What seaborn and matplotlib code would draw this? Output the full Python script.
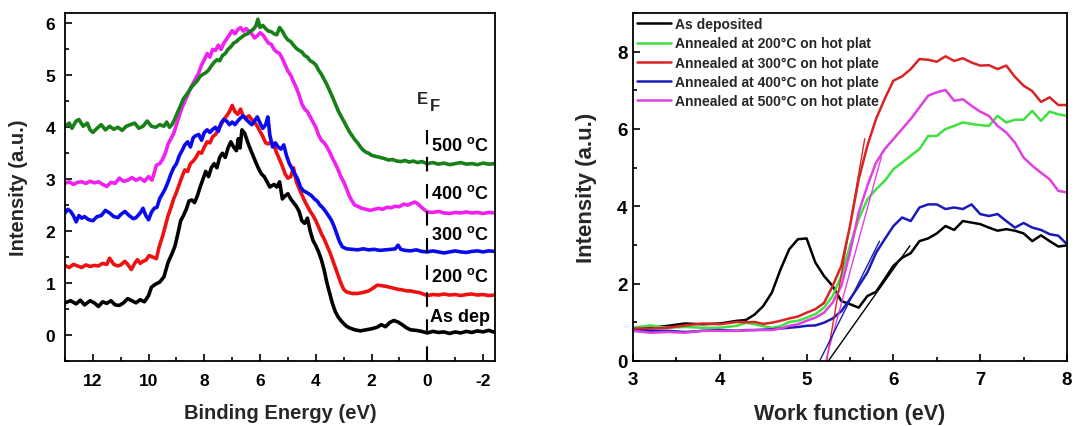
import matplotlib
matplotlib.use("Agg")
import matplotlib.pyplot as plt
import seaborn as sns
from matplotlib.ticker import MultipleLocator

sns.set_theme(style="ticks")
plt.rcParams["font.family"] = ["Liberation Sans", "DejaVu Sans"]
plt.rcParams["font.weight"] = "bold"
plt.rcParams["axes.labelweight"] = "bold"
plt.rcParams["axes.unicode_minus"] = False
plt.rcParams["mathtext.fontset"] = "custom"
plt.rcParams["mathtext.rm"] = "Liberation Sans:bold"
plt.rcParams["mathtext.bf"] = "Liberation Sans:bold"
plt.rcParams["mathtext.it"] = "Liberation Sans:bold"

# ---------------- Left panel data: valence band spectra ----------------
asdep_x = [13.0, 12.8, 12.6, 12.45, 12.3, 12.1, 11.95, 11.8, 11.65, 11.5, 11.35, 11.2, 11.05, 10.9, 10.75,
           10.6, 10.45, 10.3, 10.15, 10.0, 9.9, 9.75, 9.6, 9.45, 9.3, 9.15, 9.05, 8.95, 8.85, 8.75, 8.65,
           8.55, 8.45, 8.35, 8.25, 8.15, 8.05, 7.95, 7.85, 7.75, 7.65, 7.55, 7.45, 7.35, 7.25, 7.15, 7.05,
           6.95, 6.85, 6.78, 6.72, 6.65, 6.55, 6.45, 6.35, 6.25, 6.15, 6.05, 5.95, 5.85, 5.75, 5.65, 5.5,
           5.4, 5.3, 5.2, 5.1, 5.0, 4.9, 4.8, 4.7, 4.6, 4.5, 4.4, 4.3, 4.2, 4.1, 4.0, 3.9, 3.8, 3.7, 3.6,
           3.5, 3.4, 3.3, 3.2, 3.1, 3.0, 2.9, 2.8, 2.6, 2.4, 2.2, 2.0, 1.8, 1.65, 1.5, 1.35, 1.2, 1.05,
           0.9, 0.75, 0.6, 0.4, 0.2, 0.0, -0.2, -0.4, -0.6, -0.8, -1.0, -1.2, -1.4, -1.6, -1.8, -2.0,
           -2.2, -2.43]
asdep_y = [0.62, 0.66, 0.60, 0.67, 0.58, 0.66, 0.62, 0.55, 0.64, 0.61, 0.66, 0.58, 0.57, 0.62, 0.70,
           0.66, 0.62, 0.68, 0.64, 0.76, 0.92, 0.98, 1.02, 1.12, 1.40, 1.58, 1.72, 1.95, 2.20, 2.30, 2.42,
           2.58, 2.60, 2.55, 2.68, 2.85, 3.00, 3.15, 3.05, 3.22, 3.30, 3.22, 3.42, 3.50, 3.42, 3.60, 3.72,
           3.62, 3.55, 3.78, 3.60, 3.95, 3.88, 3.72, 3.58, 3.45, 3.32, 3.20, 3.10, 3.05, 2.95, 2.85, 2.90,
           2.85, 2.95, 2.62, 2.68, 2.72, 2.62, 2.55, 2.48, 2.38, 2.20, 2.15, 2.25, 2.00, 1.82, 1.72, 1.60,
           1.45, 1.25, 1.00, 0.80, 0.60, 0.45, 0.35, 0.28, 0.22, 0.17, 0.14, 0.10, 0.08, 0.10, 0.12, 0.15,
           0.20, 0.16, 0.24, 0.28, 0.25, 0.20, 0.14, 0.10, 0.09, 0.07, 0.04, 0.07, 0.05, 0.06, 0.03, 0.06,
           0.04, 0.07, 0.05, 0.08, 0.06, 0.09, 0.05]

c200_x = [13.0, 12.85, 12.7, 12.55, 12.4, 12.25, 12.1, 11.95, 11.8, 11.65, 11.5, 11.4, 11.25, 11.1, 11.0,
          10.85, 10.75, 10.62, 10.5, 10.4, 10.3, 10.2, 10.1, 9.98, 9.85, 9.72, 9.62, 9.5, 9.4, 9.3, 9.2,
          9.1, 9.0, 8.9, 8.8, 8.7, 8.6, 8.5, 8.4, 8.3, 8.2, 8.1, 8.0, 7.9, 7.8, 7.7, 7.6, 7.5, 7.4, 7.3,
          7.2, 7.1, 7.0, 6.9, 6.8, 6.7, 6.6, 6.5, 6.4, 6.3, 6.2, 6.1, 6.0, 5.9, 5.8, 5.7, 5.6, 5.5, 5.4,
          5.3, 5.2, 5.1, 5.0, 4.9, 4.8, 4.7, 4.6, 4.5, 4.4, 4.3, 4.2, 4.1, 4.0, 3.9, 3.8, 3.7, 3.6, 3.5,
          3.4, 3.3, 3.2, 3.1, 3.0, 2.9, 2.7, 2.5, 2.3, 2.1, 1.95, 1.8, 1.65, 1.5, 1.35, 1.2, 1.05, 0.9,
          0.75, 0.6, 0.45, 0.3, 0.15, 0.0, -0.2, -0.4, -0.6, -0.8, -1.0, -1.2, -1.4, -1.6, -1.8, -2.0,
          -2.2, -2.43]
c200_y = [1.34, 1.30, 1.36, 1.33, 1.30, 1.35, 1.32, 1.34, 1.33, 1.38, 1.36, 1.48, 1.36, 1.33, 1.35,
          1.42, 1.36, 1.26, 1.38, 1.45, 1.38, 1.42, 1.44, 1.53, 1.50, 1.47, 1.70, 1.90, 2.10, 2.30, 2.45,
          2.62, 2.75, 2.90, 3.05, 3.18, 3.15, 3.30, 3.35, 3.42, 3.52, 3.50, 3.62, 3.72, 3.70, 3.82, 3.86,
          3.95, 4.05, 4.15, 4.22, 4.30, 4.42, 4.30, 4.25, 4.35, 4.20, 4.18, 4.22, 4.15, 4.10, 4.02, 3.92,
          3.82, 3.70, 3.68, 3.72, 3.65, 3.50, 3.38, 3.25, 3.10, 3.02, 3.05, 3.22, 2.95, 2.82, 2.70, 2.58,
          2.48, 2.38, 2.30, 2.20, 2.08, 1.95, 1.85, 1.72, 1.60, 1.45, 1.30, 1.15, 1.00, 0.88, 0.83, 0.80,
          0.80, 0.82, 0.85, 0.90, 0.96, 0.95, 0.94, 0.92, 0.90, 0.88, 0.87, 0.85, 0.85, 0.83, 0.82, 0.79,
          0.76, 0.78, 0.77, 0.79, 0.77, 0.78, 0.76, 0.78, 0.79, 0.77, 0.78, 0.76, 0.77]

c300_x = [13.0, 12.9, 12.8, 12.7, 12.6, 12.5, 12.4, 12.3, 12.15, 12.0, 11.85, 11.7, 11.55, 11.4, 11.25,
          11.1, 11.0, 10.85, 10.7, 10.55, 10.45, 10.3, 10.2, 10.1, 10.0, 9.9, 9.8, 9.7, 9.6, 9.5, 9.4,
          9.3, 9.2, 9.1, 9.0, 8.9, 8.8, 8.7, 8.6, 8.5, 8.4, 8.3, 8.2, 8.1, 8.0, 7.9, 7.8, 7.7, 7.6, 7.5,
          7.4, 7.3, 7.2, 7.1, 7.0, 6.9, 6.8, 6.7, 6.6, 6.5, 6.4, 6.3, 6.2, 6.1, 6.0, 5.9, 5.8, 5.72, 5.65,
          5.55, 5.45, 5.35, 5.25, 5.15, 5.05, 4.95, 4.85, 4.75, 4.65, 4.55, 4.45, 4.35, 4.25, 4.15, 4.05,
          3.95, 3.85, 3.75, 3.65, 3.55, 3.45, 3.35, 3.25, 3.15, 3.05, 2.9, 2.7, 2.5, 2.3, 2.1, 1.9, 1.7,
          1.5, 1.3, 1.15, 1.05, 0.95, 0.8, 0.6, 0.4, 0.2, 0.0, -0.2, -0.4, -0.6, -0.8, -1.0, -1.2, -1.4,
          -1.6, -1.8, -2.0, -2.2, -2.43]
c300_y = [2.35, 2.42, 2.38, 2.30, 2.18, 2.30, 2.25, 2.28, 2.22, 2.20, 2.28, 2.30, 2.40, 2.35, 2.28,
          2.26, 2.32, 2.38, 2.30, 2.24, 2.26, 2.35, 2.44, 2.30, 2.22, 2.36, 2.44, 2.46, 2.63, 2.72, 2.82,
          2.95, 3.10, 3.22, 3.30, 3.45, 3.55, 3.66, 3.72, 3.62, 3.80, 3.84, 3.86, 3.75, 3.90, 3.95, 3.90,
          3.96, 4.00, 3.92, 4.08, 4.15, 4.12, 4.05, 4.10, 4.05, 4.12, 4.18, 4.22, 4.15, 4.10, 4.05, 4.12,
          4.20, 4.08, 3.98, 4.05, 4.20, 3.85, 3.62, 3.70, 3.62, 3.58, 3.66, 3.45, 3.30, 3.20, 3.10, 3.00,
          2.85, 2.78, 2.75, 2.72, 2.68, 2.62, 2.58, 2.50, 2.45, 2.38, 2.30, 2.22, 2.10, 1.95, 1.80, 1.70,
          1.66, 1.65, 1.64, 1.66, 1.64, 1.65, 1.63, 1.64, 1.65, 1.66, 1.73, 1.65, 1.63, 1.62, 1.64, 1.61,
          1.60, 1.62, 1.60, 1.58, 1.60, 1.62, 1.60, 1.59, 1.61, 1.62, 1.60, 1.62, 1.61]

c400_x = [13.0, 12.85, 12.7, 12.55, 12.4, 12.25, 12.1, 11.95, 11.8, 11.65, 11.5, 11.35, 11.2, 11.05, 10.9,
          10.75, 10.6, 10.45, 10.3, 10.15, 10.0, 9.88, 9.8, 9.72, 9.6, 9.5, 9.4, 9.3, 9.2, 9.1, 9.0, 8.9,
          8.8, 8.7, 8.6, 8.5, 8.4, 8.3, 8.2, 8.1, 8.0, 7.9, 7.8, 7.7, 7.6, 7.5, 7.4, 7.3, 7.2, 7.1, 7.0,
          6.9, 6.8, 6.7, 6.6, 6.5, 6.4, 6.3, 6.2, 6.1, 6.0, 5.9, 5.8, 5.7, 5.6, 5.5, 5.4, 5.3, 5.2, 5.1,
          5.0, 4.9, 4.8, 4.7, 4.6, 4.5, 4.4, 4.3, 4.2, 4.1, 4.0, 3.9, 3.8, 3.7, 3.6, 3.5, 3.4, 3.3, 3.2,
          3.1, 3.0, 2.9, 2.8, 2.7, 2.6, 2.5, 2.35, 2.2, 2.05, 1.9, 1.75, 1.6, 1.45, 1.3, 1.15, 1.0, 0.85,
          0.7, 0.55, 0.45, 0.35, 0.25, 0.12, 0.0, -0.2, -0.4, -0.6, -0.8, -1.0, -1.2, -1.4, -1.6, -1.8,
          -2.0, -2.2, -2.43]
c400_y = [2.92, 2.95, 2.90, 2.94, 2.95, 2.92, 2.96, 2.93, 2.95, 2.90, 2.86, 2.94, 2.92, 3.02, 2.96,
          2.98, 3.03, 2.98, 3.02, 2.96, 3.05, 2.98, 3.12, 3.27, 3.30, 3.38, 3.50, 3.68, 3.78, 3.88, 4.05,
          4.22, 4.38, 4.50, 4.62, 4.75, 4.85, 4.95, 5.05, 5.20, 5.30, 5.42, 5.35, 5.50, 5.48, 5.58, 5.50,
          5.62, 5.70, 5.78, 5.86, 5.80, 5.88, 5.92, 5.85, 5.90, 5.84, 5.80, 5.72, 5.76, 5.82, 5.78, 5.70,
          5.62, 5.60, 5.50, 5.45, 5.42, 5.32, 5.20, 5.08, 5.00, 4.88, 4.76, 4.62, 4.45, 4.35, 4.30, 4.20,
          4.10, 4.00, 3.85, 3.75, 3.70, 3.62, 3.52, 3.40, 3.30, 3.18, 3.05, 2.95, 2.82, 2.68, 2.58, 2.50,
          2.48, 2.44, 2.42, 2.40, 2.42, 2.44, 2.42, 2.46, 2.45, 2.48, 2.47, 2.52, 2.50, 2.54, 2.56, 2.53,
          2.48, 2.42, 2.37, 2.36, 2.38, 2.35, 2.34, 2.36, 2.35, 2.37, 2.35, 2.36, 2.34, 2.36, 2.35]

c500_x = [13.0, 12.85, 12.75, 12.6, 12.5, 12.35, 12.2, 12.1, 12.0, 11.85, 11.7, 11.55, 11.4, 11.25, 11.1,
          10.95, 10.8, 10.65, 10.5, 10.35, 10.2, 10.05, 9.9, 9.75, 9.6, 9.45, 9.35, 9.25, 9.15, 9.05,
          8.95, 8.85, 8.75, 8.65, 8.55, 8.45, 8.35, 8.25, 8.15, 8.05, 7.95, 7.85, 7.75, 7.65, 7.55, 7.45,
          7.35, 7.25, 7.15, 7.05, 6.95, 6.85, 6.75, 6.65, 6.55, 6.45, 6.35, 6.25, 6.15, 6.08, 6.0, 5.9,
          5.8, 5.7, 5.6, 5.5, 5.4, 5.3, 5.2, 5.1, 5.0, 4.9, 4.8, 4.7, 4.6, 4.5, 4.4, 4.3, 4.2, 4.1, 4.0,
          3.9, 3.8, 3.7, 3.6, 3.5, 3.4, 3.3, 3.2, 3.1, 3.0, 2.9, 2.8, 2.7, 2.6, 2.5, 2.4, 2.3, 2.2, 2.1,
          2.0, 1.85, 1.7, 1.55, 1.4, 1.25, 1.1, 0.95, 0.8, 0.65, 0.5, 0.35, 0.2, 0.0, -0.2, -0.4, -0.6,
          -0.8, -1.0, -1.2, -1.4, -1.6, -1.8, -2.0, -2.2, -2.43]
c500_y = [4.02, 4.08, 3.98, 4.12, 4.15, 4.02, 4.08, 3.95, 3.90, 3.98, 4.05, 3.95, 4.02, 3.96, 4.00,
          3.94, 4.02, 4.05, 4.08, 3.98, 4.02, 4.12, 4.02, 4.00, 4.05, 4.02, 4.10, 4.00, 4.06, 4.17,
          4.30, 4.42, 4.55, 4.62, 4.70, 4.78, 4.84, 4.90, 4.98, 5.02, 5.05, 5.10, 5.18, 5.25, 5.30, 5.28,
          5.38, 5.42, 5.50, 5.55, 5.62, 5.65, 5.70, 5.74, 5.78, 5.80, 5.85, 5.88, 5.95, 6.08, 5.92, 5.96,
          5.90, 5.85, 5.84, 5.80, 5.78, 5.92, 5.85, 5.75, 5.68, 5.65, 5.58, 5.52, 5.48, 5.45, 5.38, 5.35,
          5.28, 5.25, 5.20, 5.10, 5.02, 4.92, 4.82, 4.70, 4.58, 4.45, 4.32, 4.22, 4.12, 4.02, 3.92, 3.84,
          3.76, 3.70, 3.62, 3.56, 3.52, 3.50, 3.46, 3.44, 3.42, 3.40, 3.37, 3.38, 3.35, 3.34, 3.36, 3.33,
          3.35, 3.32, 3.34, 3.30, 3.32, 3.29, 3.31, 3.28, 3.30, 3.32, 3.29, 3.30, 3.28, 3.31, 3.29, 3.30]

left_series = [(asdep_x, asdep_y, "#000000"),
               (c200_x, c200_y, "#ee1111"),
               (c300_x, c300_y, "#0a0aee"),
               (c400_x, c400_y, "#f020f0"),
               (c500_x, c500_y, "#178017")]
left_labels = ["As dep", "200 $^{\\mathrm{o}}$C", "300 $^{\\mathrm{o}}$C",
               "400 $^{\\mathrm{o}}$C", "500 $^{\\mathrm{o}}$C"]
left_label_y = [0.35, 1.13, 1.95, 2.74, 3.65]
ef_x = 0.0
ef_top = 3.95

# ---------------- Right panel data: work function ----------------
wf_x = [3.0, 3.2, 3.4, 3.6, 3.8, 4.0, 4.2, 4.3, 4.4, 4.5, 4.6, 4.7, 4.8, 4.9, 5.0, 5.1, 5.2, 5.3, 5.4,
        5.5, 5.6, 5.7, 5.8, 5.9, 6.0, 6.1, 6.2, 6.3, 6.4, 6.5, 6.6, 6.7, 6.8, 6.9, 7.0, 7.1, 7.2, 7.3,
        7.4, 7.5, 7.6, 7.7, 7.8, 7.9, 8.0]
wf_asdep = [0.82, 0.86, 0.91, 0.97, 0.95, 0.97, 1.04, 1.06, 1.20, 1.42, 1.77, 2.37, 2.89, 3.15, 3.17,
            2.55, 2.20, 1.94, 1.55, 1.47, 1.38, 1.68, 1.79, 2.12, 2.46, 2.67, 2.79, 3.10, 3.17, 3.30,
            3.49, 3.39, 3.62, 3.58, 3.54, 3.45, 3.37, 3.41, 3.37, 3.30, 3.10, 3.25, 3.10, 2.96, 2.99]
wf_200 = [0.86, 0.92, 0.86, 0.88, 0.86, 0.86, 0.91, 0.99, 0.95, 0.90, 0.86, 0.90, 1.01, 1.04, 1.12,
          1.21, 1.38, 1.68, 2.20, 2.98, 3.67, 4.18, 4.44, 4.66, 4.96, 5.13, 5.31, 5.48, 5.82, 5.82,
          6.00, 6.08, 6.17, 6.13, 6.10, 6.08, 6.34, 6.17, 6.24, 6.24, 6.47, 6.21, 6.45, 6.38, 6.34]
wf_300 = [0.84, 0.84, 0.86, 0.92, 0.97, 0.95, 1.01, 1.00, 1.01, 0.96, 0.99, 1.04, 1.10, 1.15, 1.25,
          1.34, 1.50, 1.94, 2.46, 3.49, 4.70, 5.57, 6.26, 6.78, 7.25, 7.36, 7.55, 7.81, 7.79, 7.74,
          7.88, 7.76, 7.83, 7.72, 7.64, 7.65, 7.55, 7.64, 7.35, 7.12, 6.98, 6.70, 6.82, 6.62, 6.62]
wf_400 = [0.78, 0.78, 0.78, 0.75, 0.78, 0.80, 0.78, 0.80, 0.80, 0.81, 0.82, 0.84, 0.86, 0.88, 0.91,
          0.92, 0.99, 1.10, 1.29, 1.60, 1.94, 2.29, 2.80, 3.15, 3.49, 3.71, 3.62, 3.97, 4.05, 4.05,
          3.93, 3.97, 3.93, 4.05, 3.80, 3.75, 3.80, 3.62, 3.45, 3.57, 3.45, 3.39, 3.28, 3.24, 3.02]
wf_500 = [0.78, 0.73, 0.75, 0.73, 0.78, 0.78, 0.78, 0.79, 0.80, 0.80, 0.80, 0.84, 0.91, 0.95, 1.04,
          1.12, 1.25, 1.51, 1.94, 2.80, 3.84, 4.53, 5.13, 5.48, 5.74, 6.00, 6.26, 6.56, 6.86, 6.95,
          7.01, 6.73, 6.77, 6.60, 6.45, 6.34, 6.08, 5.91, 5.65, 5.26, 5.05, 4.87, 4.70, 4.40, 4.36]
wf_labels = ["As deposited", "Annealed at 200\u00b0C on hot plat", "Annealed at 300\u00b0C on hot plate",
             "Annealed at 400\u00b0C on hot plate", "Annealed at 500\u00b0C on hot plate"]
wf_colors = ["#000000", "#3fe03f", "#d92424", "#1a1ab8", "#e040e0"]

# linear-fit (tangent) lines: x endpoints, y endpoints
tan_300_x, tan_300_y = [5.23, 5.67], [0.0, 5.75]
tan_500_x, tan_500_y = [5.22, 5.86], [0.0, 5.27]
tan_400_x, tan_400_y = [5.15, 5.84], [0.0, 3.10]
tan_dep_x, tan_dep_y = [5.25, 6.19], [0.0, 2.98]

# ---------------- Figure ----------------
W, H = 1076, 427
fig = plt.figure(figsize=(W / 100, H / 100), dpi=100)
ax1 = fig.add_axes([65 / W, 65 / H, 430 / W, 348 / H])
ax2 = fig.add_axes([633 / W, 65 / H, 434 / W, 348 / H])

for x, y, c in left_series:
    sns.lineplot(x=x, y=y, ax=ax1, color=c, linewidth=2.6, estimator=None, sort=False, legend=False)

ax1.set_xlim(13.0, -2.43)
ax1.set_ylim(-0.5, 6.2)
ax1.vlines(ef_x, -0.5, ef_top, colors="black", linewidth=1.5, linestyles=(0, (7, 6)))

for lab, yy in zip(left_labels, left_label_y):
    ax1.text(-0.15 if lab != "As dep" else -0.08, yy, lab, fontsize=13, fontweight="bold",
             ha="left", va="center", color="black")
ax1.text(0.38, 4.46, "E", fontsize=12, fontweight="bold", ha="left", va="baseline")
ax1.text(-0.08, 4.34, "F", fontsize=12, fontweight="bold", ha="left", va="baseline")

ax1.xaxis.set_major_locator(MultipleLocator(2))
ax1.xaxis.set_minor_locator(MultipleLocator(1))
ax1.yaxis.set_major_locator(MultipleLocator(1))
ax1.yaxis.set_minor_locator(MultipleLocator(0.5))
ax1.tick_params(axis="both", which="both", direction="in", top=False, right=False, width=1.2,
                colors="black", labelsize=12.5)
ax1.tick_params(axis="both", which="major", length=5)
ax1.tick_params(axis="both", which="minor", length=3)
ax1.tick_params(axis="x", which="major", pad=9)
ax1.tick_params(axis="y", which="major", pad=7)
ax1.set_xlabel("Binding Energy (eV)", fontsize=14.5, fontweight="bold")
ax1.set_ylabel("Intensity (a.u.)", fontsize=14.5, fontweight="bold")
ax1.xaxis.set_label_coords(0.5, -0.122)
ax1.yaxis.set_label_coords(-0.086, 0.5)

for ys, lab, c in zip([wf_asdep, wf_200, wf_300, wf_400, wf_500], wf_labels, wf_colors):
    sns.lineplot(x=wf_x, y=ys, ax=ax2, color=c, linewidth=1.8, label=lab, estimator=None, sort=False)

for tx, ty, c in [(tan_300_x, tan_300_y, wf_colors[2]), (tan_500_x, tan_500_y, wf_colors[4]),
                  (tan_400_x, tan_400_y, wf_colors[3]), (tan_dep_x, tan_dep_y, wf_colors[0])]:
    sns.lineplot(x=tx, y=ty, ax=ax2, color=c, linewidth=1.0, estimator=None, sort=False, legend=False)

ax2.set_xlim(3, 8)
ax2.set_ylim(0, 9)
ax2.xaxis.set_major_locator(MultipleLocator(1))
ax2.xaxis.set_minor_locator(MultipleLocator(0.5))
ax2.yaxis.set_major_locator(MultipleLocator(2))
ax2.yaxis.set_minor_locator(MultipleLocator(1))
ax2.tick_params(axis="both", which="both", direction="in", top=False, right=False, width=1.2,
                colors="black", labelsize=13.5)
ax2.tick_params(axis="both", which="major", length=5)
ax2.tick_params(axis="both", which="minor", length=3)
ax2.tick_params(axis="x", which="major", pad=7)
ax2.tick_params(axis="y", which="major", pad=4)
ax2.set_xlabel("Work function (eV)", fontsize=15.5, fontweight="bold")
ax2.set_ylabel("Intensity (a.u.)", fontsize=16, fontweight="bold")
ax2.xaxis.set_label_coords(0.5, -0.12)
ax2.yaxis.set_label_coords(-0.084, 0.5)
ax2.legend(loc="upper left", bbox_to_anchor=(0, 1), frameon=False,
           prop={"weight": "bold", "size": 10}, handlelength=2.4, handletextpad=0.3,
           labelspacing=0.38, borderaxespad=0.15, borderpad=0.15)

for ax in (ax1, ax2):
    for s in ax.spines.values():
        s.set_visible(True)
        s.set_color("black")
        s.set_linewidth(1.3)
    for t in ax.get_xticklabels() + ax.get_yticklabels():
        t.set_fontweight("bold")

fig.savefig("out.png", dpi=100)
